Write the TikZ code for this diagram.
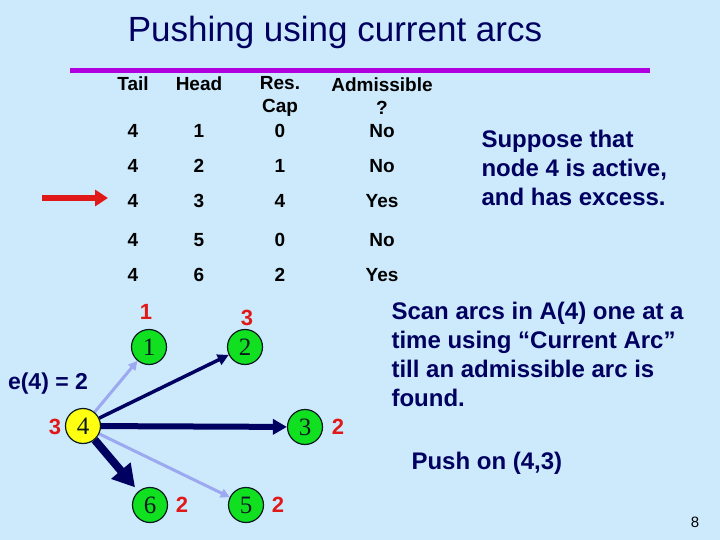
\documentclass[tikz,border=0pt]{standalone}
\usepackage{fontspec}
\setmainfont{Liberation Sans}
\newfontfamily\nodefont{Liberation Serif}
\usetikzlibrary{arrows.meta}
\pgfdeclarelayer{bg}
\pgfdeclarelayer{arcs}
\pgfsetlayers{bg,arcs,main}
\definecolor{pbg}{HTML}{CCEAFB}
\definecolor{pnavy}{HTML}{000060}
\definecolor{pviolet}{HTML}{B000E0}
\definecolor{pred}{HTML}{E01818}
\definecolor{pgreen}{HTML}{10E020}
\definecolor{pyellow}{HTML}{FFFF10}
\definecolor{plight}{HTML}{9CA8F0}
\definecolor{pdark}{HTML}{0A1A20}
\tikzset{
  cell/.style={font=\fontsize{19}{23}\selectfont\bfseries, text=black, align=center},
  note/.style={font=\fontsize{24}{29}\selectfont\bfseries, text=pnavy, align=left, anchor=north west},
  vertex/.style={circle, draw=pdark, line width=1.2pt, fill=pgreen, minimum size=35pt, inner sep=0pt,
                 text=pdark, font=\nodefont\fontsize{25}{25}\selectfont},
  dist/.style={font=\fontsize{22}{22}\selectfont\bfseries, text=pred},
  thinarc/.style={-{Triangle[length=9pt, width=9pt]}, draw=plight, fill=plight, line width=3pt},
  navyarc/.style={-{Triangle[length=11pt, width=11pt]}, draw=pnavy, line width=3.5pt},
  fatarc/.style={-{Triangle[length=14pt, width=15pt]}, draw=pnavy, line width=6pt},
  hugearc/.style={-{Triangle[length=22pt, width=24pt]}, draw=pnavy, line width=8pt, shorten >=5pt}
}
\begin{document}
\begin{tikzpicture}[x=1pt, y=-1pt]
  \begin{pgfonlayer}{bg}
    \fill[pbg] (0,0) rectangle (720,540);
  \end{pgfonlayer}
  \useasboundingbox (0,0) rectangle (720,540);

  % title and rule
  \node[font=\fontsize{35}{35}\selectfont, text=pnavy] (title) at (335,32) {Pushing using current arcs};
  \coordinate (ruleL) at (70,71);
  \coordinate (ruleR) at (650,71);
  \draw[pviolet, line width=5pt] (ruleL) -- (ruleR);

  % arc table
  \node[cell] (hTail) at (133,84) {Tail};
  \node[cell] (hHead) at (199,84) {Head};
  \node[cell] (hCap) at (280,96) {Res.\\Cap};
  \node[cell] (hAdm) at (382,96) {Admissible\\?};
  \foreach \h/\c/\a/\y [count=\i] in {1/0/No/131, 2/1/No/166, 3/4/Yes/201, 5/0/No/240, 6/2/Yes/275} {
    \node[cell] (t\i) at (133,\y) {4};
    \node[cell] (h\i) at (199,\y) {\h};
    \node[cell] (c\i) at (280,\y) {\c};
    \node[cell] (a\i) at (382,\y) {\a};
  }

  % current arc pointer
  \coordinate (ptr) at (42,198);
  \coordinate (ptrtip) at (108,198);
  \draw[pred, line width=6pt, -{Triangle[length=13pt, width=16pt]}] (ptr) -- (ptrtip);

  \node[note] (suppose) at (478,127) {Suppose that\\node 4 is active,\\and has excess.};

  % residual network
  \node[vertex, fill=pyellow] (n4) at (83,426) {4};
  \node[vertex] (n1) at (149,347) {1};
  \node[vertex] (n2) at (245,347) {2};
  \node[vertex] (n3) at (305,427) {3};
  \node[vertex] (n6) at (150,505) {6};
  \node[vertex] (n5) at (246,505) {5};

  \node[dist] (d1) at (146,312) {1};
  \node[dist] (d2) at (247,318) {3};
  \node[dist] (d4) at (55,427) {3};
  \node[dist] (d3) at (338,427) {2};
  \node[dist] (d6) at (182,505) {2};
  \node[dist] (d5) at (278,505) {2};

  \node[font=\fontsize{23}{23}\selectfont\bfseries, text=pnavy] (excess) at (48,384) {e(4) = 2};

  \begin{pgfonlayer}{arcs}
    \draw[thinarc] (n4) -- (n1);
    \draw[thinarc] (n4) -- (n5);
    \draw[navyarc] (n4) -- (n2);
    \draw[fatarc] (n4) -- (n3);
    \draw[hugearc] (n4) -- (n6);
  \end{pgfonlayer}

  \node[note] (scan) at (388,299) {Scan arcs in A(4) one at a\\time using “Current Arc”\\till an admissible arc is\\found.};
  \node[note, anchor=west] (push) at (408,463) {Push on (4,3)};

  \node[font=\fontsize{15}{15}\selectfont] (page) at (695,522) {8};
\end{tikzpicture}
\end{document}
